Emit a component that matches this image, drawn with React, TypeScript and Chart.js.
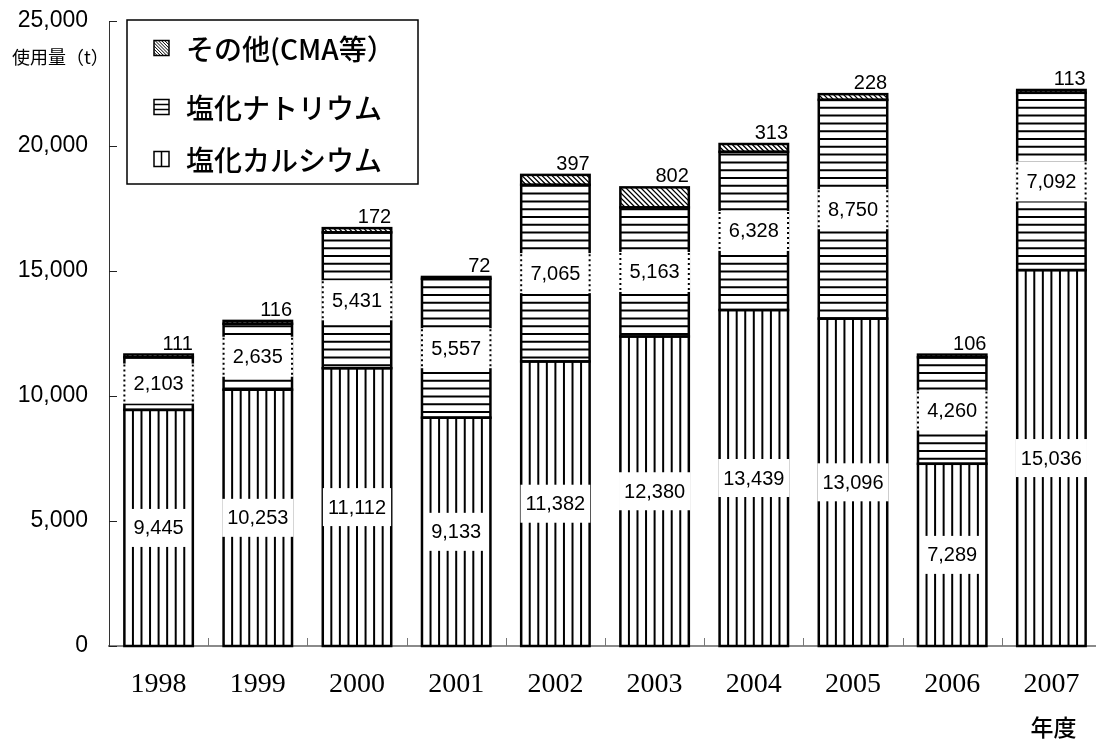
import React, { useEffect, useRef } from 'react';
import { Chart, registerables } from 'chart.js';

Chart.register(...registerables);

// Road de-icing agent use per fiscal year (tonnes)
const years = ['1998', '1999', '2000', '2001', '2002', '2003', '2004', '2005', '2006', '2007'];
const calciumChloride = [9445, 10253, 11112, 9133, 11382, 12380, 13439, 13096, 7289, 15036];
const sodiumChloride = [2103, 2635, 5431, 5557, 7065, 5163, 6328, 8750, 4260, 7092];
const otherAgents = [111, 116, 172, 72, 397, 802, 313, 228, 106, 113];
const seriesNames = ['塩化カルシウム', '塩化ナトリウム', 'その他(CMA等）'];
const yMax = 25000;
const yStep = 5000;
const yTitle = '使用量（t）';
const xTitle = '年度';

type Hatch = 'vertical' | 'horizontal' | 'diagonal';
const hatches: Hatch[] = ['vertical', 'horizontal', 'diagonal'];

const LABEL_FONT = '20px "Liberation Sans", Arial, sans-serif';
const JP_FONT = '"Noto Sans CJK JP", "Noto Sans", sans-serif';

const fmt = (v: number) => v.toLocaleString('en-US');

function hatchRect(ctx: CanvasRenderingContext2D, kind: Hatch, l: number, t: number, r: number, b: number, baseY: number) {
  ctx.save();
  ctx.beginPath();
  ctx.rect(l, t, r - l, b - t);
  ctx.clip();
  ctx.strokeStyle = '#000';
  ctx.beginPath();
  if (kind === 'vertical') {
    ctx.lineWidth = 2;
    const w = r - l;
    for (let k = 1; k < 8; k++) {
      const x = l + (k * w) / 8;
      ctx.moveTo(x, t);
      ctx.lineTo(x, b);
    }
  } else if (kind === 'horizontal') {
    ctx.lineWidth = 2;
    const step = 7.8;
    for (let y = baseY; y > t - step; y -= step) {
      if (y <= b + 1) {
        ctx.moveTo(l, y);
        ctx.lineTo(r, y);
      }
    }
  } else {
    ctx.lineWidth = 1.3;
    const step = 5;
    const h = b - t;
    for (let x0 = l - h - step; x0 < r + step; x0 += step) {
      ctx.moveTo(x0, t);
      ctx.lineTo(x0 + h, b);
    }
  }
  ctx.stroke();
  ctx.restore();
}

const hatchPlugin = {
  id: 'hatchBars',
  afterDatasetsDraw(chart: any) {
    const ctx: CanvasRenderingContext2D = chart.ctx;
    const area = chart.chartArea;
    const metas = chart.data.datasets.map((_: any, i: number) => chart.getDatasetMeta(i));

    // patterned segments with outlines
    metas.forEach((meta: any, d: number) => {
      meta.data.forEach((el: any) => {
        const { x, y, base, width } = el.getProps(['x', 'y', 'base', 'width'], true);
        const l = x - width / 2;
        const r = x + width / 2;
        const t = Math.min(y, base);
        const b = Math.max(y, base);
        hatchRect(ctx, hatches[d], l, t, r, b, area.bottom);
        ctx.save();
        ctx.strokeStyle = '#000';
        ctx.lineWidth = 2.5;
        ctx.strokeRect(l, t, r - l, b - t);
        ctx.restore();
      });
    });

    // value labels
    ctx.save();
    ctx.font = LABEL_FONT;
    ctx.fillStyle = '#000';
    metas.forEach((meta: any, d: number) => {
      const values = chart.data.datasets[d].data as number[];
      meta.data.forEach((el: any, i: number) => {
        const { x, y, base, width } = el.getProps(['x', 'y', 'base', 'width'], true);
        const text = fmt(values[i]);
        const mid = (y + base) / 2;
        if (d === 0) {
          const tw = ctx.measureText(text).width + 10;
          ctx.fillStyle = '#fff';
          ctx.fillRect(x - tw / 2, mid - 19, tw, 38);
          ctx.fillStyle = '#000';
          ctx.textAlign = 'center';
          ctx.textBaseline = 'middle';
          ctx.fillText(text, x, mid + 1);
        } else if (d === 1) {
          const l = x - width / 2;
          const r = x + width / 2;
          ctx.fillStyle = '#fff';
          ctx.fillRect(l - 1.5, mid - 20, r - l + 3, 40);
          ctx.save();
          ctx.strokeStyle = '#000';
          ctx.lineWidth = 2;
          ctx.setLineDash([2, 3]);
          ctx.beginPath();
          ctx.moveTo(l, mid - 19);
          ctx.lineTo(l, mid + 19);
          ctx.moveTo(r, mid - 19);
          ctx.lineTo(r, mid + 19);
          ctx.stroke();
          ctx.restore();
          ctx.fillStyle = '#000';
          ctx.textAlign = 'center';
          ctx.textBaseline = 'middle';
          ctx.fillText(text, x, mid + 1);
        } else {
          ctx.fillStyle = '#000';
          ctx.textAlign = 'right';
          ctx.textBaseline = 'alphabetic';
          ctx.fillText(text, x + width / 2, Math.min(y, base) - 5);
        }
      });
    });
    ctx.restore();
  },
  afterDraw(chart: any) {
    const ctx: CanvasRenderingContext2D = chart.ctx;
    const area = chart.chartArea;
    const xs = chart.scales.x;
    const ys = chart.scales.y;

    // inward tick marks
    ctx.save();
    ctx.lineWidth = 1;
    ctx.strokeStyle = '#222';
    ctx.beginPath();
    ys.ticks.forEach((tk: any) => {
      const py = Math.round(ys.getPixelForValue(tk.value)) + 0.5;
      ctx.moveTo(area.left, py);
      ctx.lineTo(area.left + 8, py);
    });
    ctx.stroke();
    ctx.strokeStyle = '#777';
    ctx.beginPath();
    const n = chart.data.labels.length;
    const cw = (area.right - area.left) / n;
    for (let i = 1; i < n; i++) {
      const px = Math.round(area.left + i * cw) + 0.5;
      ctx.moveTo(px, area.bottom - 8);
      ctx.lineTo(px, area.bottom);
    }
    ctx.stroke();
    ctx.restore();

    // axis titles
    ctx.save();
    ctx.fillStyle = '#000';
    ctx.font = `18px ${JP_FONT}`;
    ctx.textAlign = 'left';
    ctx.textBaseline = 'middle';
    ctx.fillText(yTitle, 12, ys.getPixelForValue(yMax) + 36);
    ctx.font = `500 23px ${JP_FONT}`;
    ctx.textAlign = 'center';
    ctx.fillText(xTitle, xs.getPixelForValue(n - 1) + 2, area.bottom + 81);
    ctx.restore();

    // legend box
    const bx = area.left + 18;
    const by = area.top - 1;
    const bw = 291;
    const bh = 164;
    ctx.save();
    ctx.fillStyle = '#fff';
    ctx.fillRect(bx, by, bw, bh);
    ctx.strokeStyle = '#000';
    ctx.lineWidth = 1.5;
    ctx.strokeRect(bx, by, bw, bh);
    const rowY = [28, 87, 139];
    const order = [2, 1, 0];
    order.forEach((d, row) => {
      const cy = by + rowY[row];
      const s = 15;
      const ix = bx + 27;
      const iy = cy - s / 2;
      ctx.save();
      ctx.beginPath();
      ctx.rect(ix, iy, s, s);
      ctx.clip();
      ctx.strokeStyle = '#000';
      ctx.beginPath();
      if (hatches[d] === 'diagonal') {
        ctx.lineWidth = 1;
        for (let x0 = ix - s; x0 < ix + s; x0 += 3.2) {
          ctx.moveTo(x0, iy);
          ctx.lineTo(x0 + s, iy + s);
        }
      } else if (hatches[d] === 'horizontal') {
        ctx.lineWidth = 1.5;
        ctx.moveTo(ix, iy + s / 3);
        ctx.lineTo(ix + s, iy + s / 3);
        ctx.moveTo(ix, iy + (2 * s) / 3);
        ctx.lineTo(ix + s, iy + (2 * s) / 3);
      } else {
        ctx.lineWidth = 1.5;
        ctx.moveTo(ix + s / 2, iy);
        ctx.lineTo(ix + s / 2, iy + s);
      }
      ctx.stroke();
      ctx.restore();
      ctx.lineWidth = 1.5;
      ctx.strokeRect(ix, iy, s, s);
      ctx.fillStyle = '#000';
      ctx.font = `500 28px ${JP_FONT}`;
      ctx.textAlign = 'left';
      ctx.textBaseline = 'middle';
      ctx.fillText(chart.data.datasets[d].label, bx + 59, cy + 1);
    });
    ctx.restore();
  },
};

export default function App() {
  const canvasRef = useRef<HTMLCanvasElement | null>(null);

  useEffect(() => {
    const canvas = canvasRef.current;
    if (!canvas) return;
    const chart = new Chart(canvas, {
      type: 'bar',
      data: {
        labels: years,
        datasets: [
          { label: seriesNames[0], data: calciumChloride, backgroundColor: '#fff', borderWidth: 0 },
          { label: seriesNames[1], data: sodiumChloride, backgroundColor: '#fff', borderWidth: 0 },
          { label: seriesNames[2], data: otherAgents, backgroundColor: '#fff', borderWidth: 0 },
        ],
      },
      options: {
        responsive: false,
        animation: false,
        events: [],
        layout: { padding: { left: 0, right: 9, top: 21, bottom: 0 } },
        datasets: { bar: { categoryPercentage: 1, barPercentage: 0.69 } },
        plugins: { legend: { display: false }, tooltip: { enabled: false } },
        scales: {
          x: {
            stacked: true,
            offset: true,
            grid: { display: false, drawTicks: false },
            border: { display: true, color: '#8a8a8a', width: 2 },
            ticks: {
              color: '#000',
              font: { family: '"Liberation Serif", "Times New Roman", serif', size: 28 },
              padding: 22,
              maxRotation: 0,
              autoSkip: false,
            },
            afterFit: (s: any) => {
              s.height = 94;
              s.paddingLeft = 0;
              s.paddingRight = 0;
            },
          },
          y: {
            stacked: true,
            min: 0,
            max: yMax,
            grid: { display: false, drawTicks: false },
            border: { display: true, color: '#333', width: 1 },
            ticks: {
              stepSize: yStep,
              color: '#000',
              font: { family: '"Liberation Sans", Arial, sans-serif', size: 23 },
              padding: 21,
              callback: (v: any) => fmt(Number(v)),
            },
            afterFit: (s: any) => {
              s.width = 109;
              s.paddingTop = 0;
              s.paddingBottom = 0;
            },
          },
        },
      } as any,
      plugins: [hatchPlugin],
    });
    return () => chart.destroy();
  }, []);

  return (
    <div style={{ position: 'absolute', left: 0, top: 0, width: 1096, height: 740, overflow: 'hidden', background: '#fff' }}>
      <canvas ref={canvasRef} width={1110} height={740} style={{ display: 'block' }} />
    </div>
  );
}
